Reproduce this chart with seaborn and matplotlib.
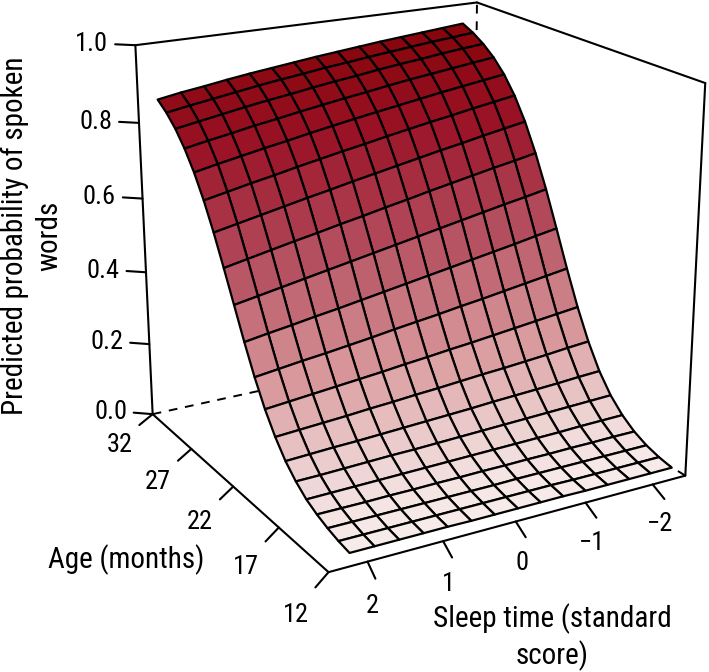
import numpy as np
import matplotlib
matplotlib.use('Agg')
import matplotlib.pyplot as plt
import seaborn as sns

# grid of the fitted surface
sleep_grid = [2.15, 1.825, 1.5, 1.175, 0.85, 0.525, 0.2, -0.125, -0.45, -0.775, -1.1, -1.425, -1.75, -2.075, -2.4]
age_grid = [12.6, 13.66, 14.73, 15.79, 16.85, 17.92, 18.98, 20.04, 21.1, 22.17,
            23.23, 24.29, 25.36, 26.42, 27.48, 28.54, 29.61, 30.67, 31.73, 32.8]

# one row per age, columns follow sleep_grid (probability x 1000)
prob_rows = [
    [16, 16, 16, 16, 16, 15, 15, 15, 15, 15, 14, 14, 14, 14, 14],
    [22, 22, 22, 22, 22, 22, 22, 22, 22, 22, 21, 21, 21, 21, 21],
    [31, 31, 31, 31, 31, 31, 31, 31, 32, 32, 32, 32, 32, 32, 32],
    [43, 43, 43, 44, 44, 45, 45, 46, 46, 47, 47, 48, 48, 49, 49],
    [59, 60, 61, 62, 63, 64, 65, 66, 67, 68, 69, 70, 72, 73, 74],
    [83, 84, 86, 88, 90, 91, 93, 95, 97, 99, 101, 103, 105, 107, 109],
    [114, 117, 120, 122, 125, 128, 131, 134, 137, 141, 144, 147, 150, 154, 157],
    [156, 160, 164, 168, 173, 177, 182, 186, 191, 196, 200, 205, 210, 216, 221],
    [208, 214, 220, 226, 232, 238, 245, 251, 258, 264, 271, 278, 285, 292, 299],
    [272, 280, 288, 295, 303, 311, 320, 328, 336, 345, 353, 362, 371, 380, 389],
    [345, 355, 364, 374, 383, 393, 403, 413, 423, 433, 443, 453, 463, 474, 484],
    [424, 435, 446, 457, 468, 479, 490, 501, 512, 523, 534, 545, 556, 566, 577],
    [503, 515, 527, 539, 550, 562, 573, 585, 596, 608, 619, 630, 641, 651, 662],
    [579, 591, 603, 615, 627, 638, 650, 661, 672, 683, 694, 704, 715, 725, 735],
    [647, 659, 671, 682, 694, 705, 716, 726, 737, 747, 757, 766, 776, 785, 794],
    [705, 717, 728, 739, 749, 760, 770, 780, 789, 798, 807, 816, 824, 832, 840],
    [753, 764, 774, 785, 794, 804, 813, 822, 830, 839, 847, 854, 861, 868, 875],
    [791, 801, 811, 821, 830, 838, 847, 855, 862, 870, 877, 883, 890, 896, 901],
    [820, 830, 839, 848, 857, 865, 872, 880, 886, 893, 899, 905, 911, 916, 921],
    [842, 852, 860, 869, 877, 884, 891, 898, 904, 910, 916, 921, 926, 931, 936],
]

sleep_ticks = [2, 1, 0, -1, -2]
sleep_labels = ['2', '1', '0', '\u22121', '\u22122']
age_ticks = [12, 17, 22, 27, 32]
prob_ticks = [0.0, 0.2, 0.4, 0.6, 0.8, 1.0]

sleep_lo, sleep_hi = -2.5, 2.5
age_lo, age_hi = 12, 32

sns.set_theme(style='white')
plt.rcParams['font.family'] = ['Roboto Condensed', 'Liberation Sans']

W, H = 709, 672
fig = plt.figure(figsize=(W / 100, H / 100), dpi=100)
ax = fig.add_axes([61.7 / W, 63.8 / H, 678 / W, 678 / H], projection='3d')
ax.set_xlim(sleep_hi, sleep_lo)
ax.set_ylim(age_lo, age_hi)
ax.set_zlim(0, 1)
ax.view_init(elev=19.5636, azim=-119.8641, roll=0)
ax.set_proj_type('persp', focal_length=0.5472)
ax.set_box_aspect((1, 1.0066, 1.0034))
ax.set_axis_off()
ax.computed_zorder = False

# surface
prob = np.array(prob_rows) / 1000
X, Y = np.meshgrid(sleep_grid, age_grid)
cell = (prob[:-1, :-1] + prob[1:, :-1] + prob[:-1, 1:] + prob[1:, 1:]) / 4
cmap = sns.blend_palette(['#f8f0ee', '#d9999c', '#b44f60', '#9a1226', '#7f0000'], as_cmap=True)
ax.plot_surface(X, Y, prob, rstride=1, cstride=1, facecolors=cmap(cell), edgecolor='black',
                linewidth=1.6, shade=False, zorder=2)

# box, hidden edges dashed and under the surface
solid = dict(color='black', lw=1.5, zorder=3, solid_capstyle='round')
dash = dict(color='black', lw=1.4, zorder=1, dashes=(4.5, 4))
ax.plot([sleep_hi, sleep_lo], [age_hi, age_hi], [0, 0], **dash)
ax.plot([sleep_lo, sleep_lo], [age_lo, age_hi], [0, 0], **dash)
ax.plot([sleep_lo, sleep_lo], [age_hi, age_hi], [0, 1], **dash)
ax.plot([sleep_hi, sleep_hi], [age_hi, age_lo], [0, 0], **solid)
ax.plot([sleep_hi, sleep_lo], [age_lo, age_lo], [0, 0], **solid)
ax.plot([sleep_hi, sleep_hi], [age_hi, age_hi], [0, 1], **solid)
ax.plot([sleep_lo, sleep_lo], [age_lo, age_lo], [0, 1], **solid)
ax.plot([sleep_hi, sleep_lo], [age_hi, age_hi], [1, 1], **solid)
ax.plot([sleep_lo, sleep_lo], [age_hi, age_lo], [1, 1], **solid)

tick_font = 19
for v, lab in zip(sleep_ticks, sleep_labels):
    ax.plot([v, v + 0.116], [age_lo, age_lo - 1.57], [0, 0], **solid)
    ax.text(v * 0.97 + 0.5, age_lo - 3.6, 0, lab, ha='center', va='center', fontsize=tick_font, color='black', zorder=4)
for v in age_ticks:
    ax.plot([sleep_hi, sleep_hi + 0.29], [v, v - 0.95], [0, 0], **solid)
    ax.text(sleep_hi + 0.75, v - 2.7, 0, str(v), ha='center', va='center', fontsize=tick_font, color='black', zorder=4)
for v in prob_ticks:
    ax.plot([sleep_hi, sleep_hi + 0.2], [age_hi, age_hi + 0.68], [v, v], **solid)
    ax.text(sleep_hi + 0.27, age_hi + 0.9, v, f'{v:.1f}', ha='right', va='center', fontsize=tick_font, color='black', zorder=4)

fig.text(32 / W, 1 - 236 / H, 'Predicted probability of spoken\nwords', rotation=90, ha='center', va='center',
         multialignment='center', fontsize=21, color='black', linespacing=1.25)
fig.text(126 / W, 1 - 560 / H, 'Age (months)', ha='center', va='center', fontsize=21, color='black')
fig.text(552 / W, 1 - 637 / H, 'Sleep time (standard\nscore)', ha='center', va='center',
         multialignment='center', fontsize=21, color='black', linespacing=1.25)

fig.savefig('out.png', dpi=100)
